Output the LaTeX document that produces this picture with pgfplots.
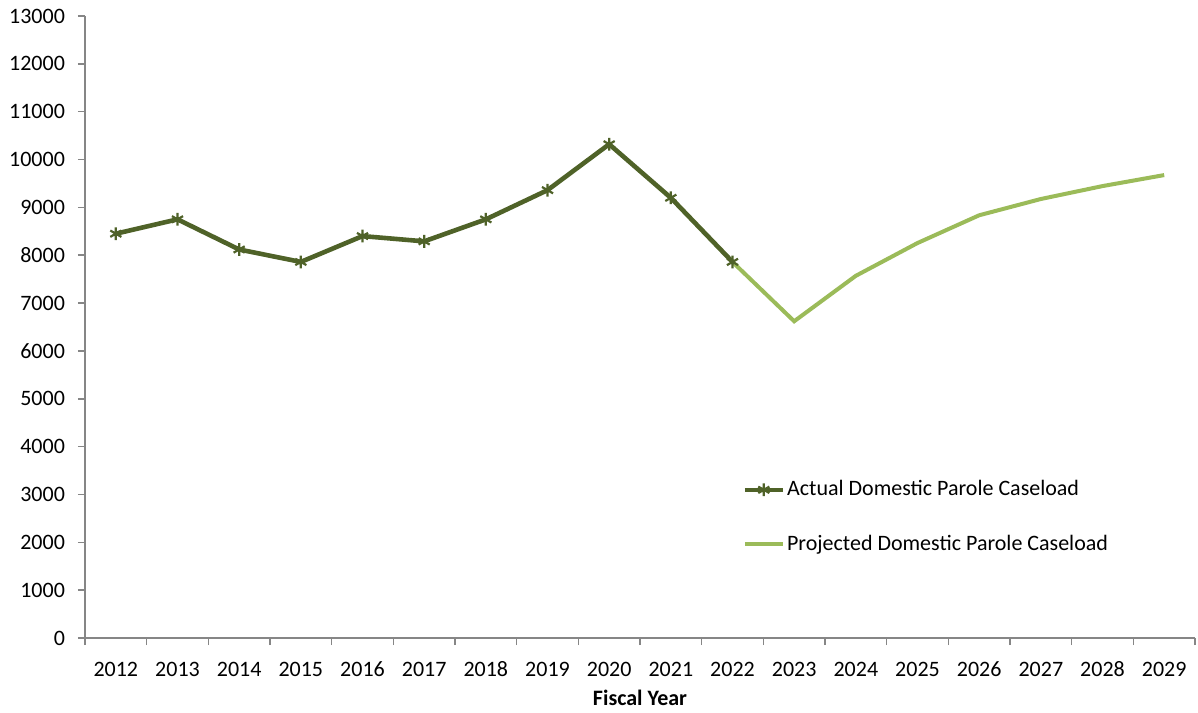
\documentclass[border=0pt]{standalone}
\usepackage{pgfplots}
\pgfplotsset{compat=1.18}
\usepackage{fontspec}
\setmainfont{Carlito}
\definecolor{darkg}{HTML}{4F6228}
\definecolor{lightg}{HTML}{9BBB59}
\definecolor{axgray}{HTML}{868686}
\begin{document}
\begin{tikzpicture}
\useasboundingbox (-42.5pt,-37pt) rectangle (556.5pt,319pt);
\begin{axis}[
  at={(0,0)}, anchor=south west,
  scale only axis, width=555pt, height=311pt,
  xmin=-0.5, xmax=17.5, ymin=0, ymax=13000,
  axis x line*=bottom, axis y line*=left,
  axis line style={draw=axgray, line width=0.8pt},
  xtick={0,...,17},
  xticklabels={2012,2013,2014,2015,2016,2017,2018,2019,2020,2021,2022,2023,2024,2025,2026,2027,2028,2029},
  major x tick style={draw=none},
  minor xtick={-0.5,0.5,...,17.5},
  ytick={0,1000,...,13000},
  scaled y ticks=false,
  tick align=outside, major tick length=3.5pt, minor tick length=3.5pt,
  tick style={draw=axgray, line width=0.8pt},
  y tick style={draw=axgray, line width=0.8pt},
  minor x tick style={draw=axgray, line width=0.8pt},
  ticklabel style={font=\fontsize{11}{13}\selectfont, text=black},
  /pgf/number format/assume math mode=true,
  /pgf/number format/set thousands separator={},
  xticklabel style={yshift=-4pt, text height=8pt, text depth=1pt},
  yticklabel style={xshift=-3pt},
  xlabel={\textbf{Fiscal Year}},
  xlabel style={font=\fontsize{11}{13}\selectfont\bfseries, yshift=1pt},
  legend style={at={(0.592,0.26)}, anchor=north west, draw=none, fill=none,
    font=\fontsize{11}{13}\selectfont, row sep=14pt, inner sep=0pt,
    nodes={inner xsep=1pt}},
  legend cell align=left,
  legend image code/.code={\draw[#1] (0pt,0pt) -- (19pt,0pt); \draw[#1, mark repeat=1] plot coordinates {(9.5pt,0pt)};},
]
\addplot[color=darkg, line width=2.3pt, mark=asterisk, mark size=3.2pt, mark options={line width=1.1pt, solid}]
  coordinates {(0,8450) (1,8750) (2,8120) (3,7860) (4,8400) (5,8290) (6,8750) (7,9360) (8,10320) (9,9200) (10,7860)};
\addlegendentry{Actual Domestic Parole Caseload}
\addplot[color=lightg, line width=2pt, mark=none]
  coordinates {(10,7860) (11,6620) (12,7570) (13,8255) (14,8835) (15,9175) (16,9445) (17,9675)};
\addlegendentry{Projected Domestic Parole Caseload}
\end{axis}
\end{tikzpicture}
\end{document}
